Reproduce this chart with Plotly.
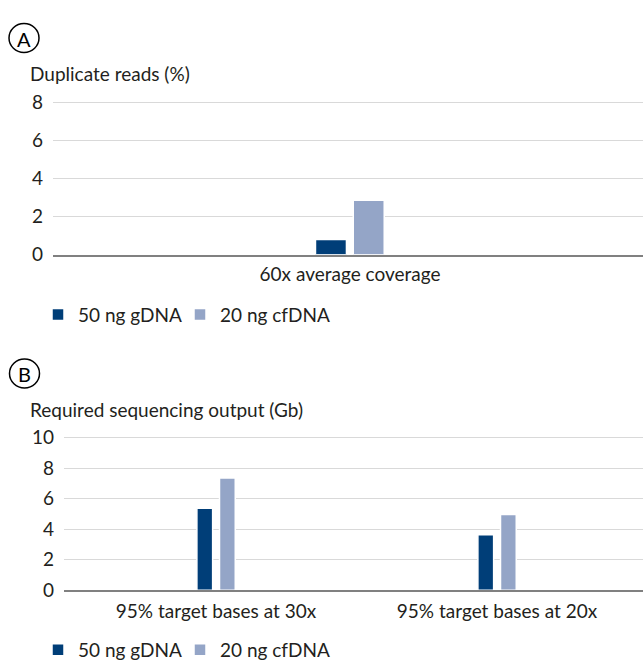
import plotly.graph_objects as go

# ---- data ----
cats_a = ["60x average coverage"]
gdna_a = [0.79]
cfdna_a = [2.86]

cats_b = ["95% target bases at 30x", "95% target bases at 20x"]
gdna_b = [5.38, 3.63]
cfdna_b = [7.37, 4.96]

series_names = ["50 ng gDNA", "20 ng cfDNA"]
yticks_a = [0, 2, 4, 6, 8]
yticks_b = [0, 2, 4, 6, 8, 10]

# ---- style ----
W, H = 643, 669
DARK = "#003E78"
LIGHT = "#94A5C7"
GRID = "#D9D9D9"
AXIS = "#808080"
TXT = "#231F20"
FONT = "Lato"
FS = 19


def px(x):
    return x / W


def py(y):
    return 1 - y / H


fig = go.Figure()

bar_line = dict(color="white", width=1.5)

fig.add_trace(go.Bar(x=cats_a, y=gdna_a, name=series_names[0], marker=dict(color=DARK, line=bar_line),
                     width=0.0525, offset=-0.0585, xaxis="x", yaxis="y", legend="legend"))
fig.add_trace(go.Bar(x=cats_a, y=cfdna_a, name=series_names[1], marker=dict(color=LIGHT, line=bar_line),
                     width=0.0525, offset=0.0055, xaxis="x", yaxis="y", legend="legend2"))
fig.add_trace(go.Bar(x=cats_b, y=gdna_b, name=series_names[0], marker=dict(color=DARK, line=bar_line),
                     width=0.056, offset=-0.068, xaxis="x2", yaxis="y2", legend="legend3"))
fig.add_trace(go.Bar(x=cats_b, y=cfdna_b, name=series_names[1], marker=dict(color=LIGHT, line=bar_line),
                     width=0.056, offset=0.0125, xaxis="x2", yaxis="y2", legend="legend4"))

a_left, a_zero, a_unit = 53, 252.7, 19.71
b_left, b_zero, b_unit = 64, 600.7, 15.8
a_center, a_pxu = 350, 590
b_center, b_pxu = 216, 281
a_top = 8.1
b_top = 10.1


def leg(x, y):
    return dict(orientation="h", x=px(x), y=py(y), xanchor="left", yanchor="middle",
                font=dict(size=FS), itemwidth=30, bgcolor="rgba(0,0,0,0)")


fig.update_layout(
    width=W, height=H,
    margin=dict(l=0, r=0, t=0, b=0),
    paper_bgcolor="white", plot_bgcolor="white",
    barmode="overlay",
    font=dict(family=FONT, size=FS, color=TXT),
    xaxis=dict(domain=[px(a_left), 1], type="category",
               range=[-(a_center - a_left) / a_pxu, (W - a_center) / a_pxu],
               showgrid=False, showline=True, linecolor=AXIS, linewidth=1.5,
               ticks="", ticklabelstandoff=2, tickfont=dict(size=FS), anchor="y"),
    yaxis=dict(domain=[py(a_zero), py(a_zero - a_top * a_unit)], range=[0, a_top],
               tickvals=yticks_a, showgrid=True, gridcolor=GRID, gridwidth=1.3,
               zeroline=False, showline=False, ticks="", ticklabelstandoff=9,
               tickfont=dict(size=FS), anchor="x"),
    xaxis2=dict(domain=[px(b_left), 1], type="category",
                range=[-(b_center - b_left) / b_pxu, (W - b_center) / b_pxu],
                showgrid=False, showline=True, linecolor=AXIS, linewidth=1.5,
                ticks="", ticklabelstandoff=3, tickfont=dict(size=FS), anchor="y2"),
    yaxis2=dict(domain=[py(b_zero), py(b_zero - b_top * b_unit)], range=[0, b_top],
                tickvals=yticks_b, showgrid=True, gridcolor=GRID, gridwidth=1.3,
                zeroline=False, showline=False, ticks="", ticklabelstandoff=9,
                tickfont=dict(size=FS), anchor="x2"),
    legend=leg(38, 315),
    legend2=leg(180, 315),
    legend3=leg(38, 663),
    legend4=leg(180, 663),
    showlegend=True,
)

for letter, cx, cy in [("A", 24, 28), ("B", 24.5, 376)]:
    r = 15
    fig.add_shape(type="circle", xref="paper", yref="paper",
                  x0=px(cx - r), x1=px(cx + r), y0=py(cy + r), y1=py(cy - r),
                  line=dict(color="black", width=1.5))
    fig.add_annotation(text=letter, xref="paper", yref="paper", x=px(cx), y=py(cy + 1),
                       xanchor="center", yanchor="middle", showarrow=False,
                       font=dict(size=20, color="black", family=FONT))

fig.add_annotation(text="Duplicate reads (%)", xref="paper", yref="paper", x=px(28), y=py(65),
                   xanchor="left", yanchor="middle", showarrow=False, font=dict(size=FS))
fig.add_annotation(text="Required sequencing output (Gb)", xref="paper", yref="paper", x=px(28), y=py(413),
                   xanchor="left", yanchor="middle", showarrow=False, font=dict(size=FS))

fig.write_html("out.html", config={"displayModeBar": False},
               post_script="document.body.style.margin='0';document.body.style.overflow='hidden';")
